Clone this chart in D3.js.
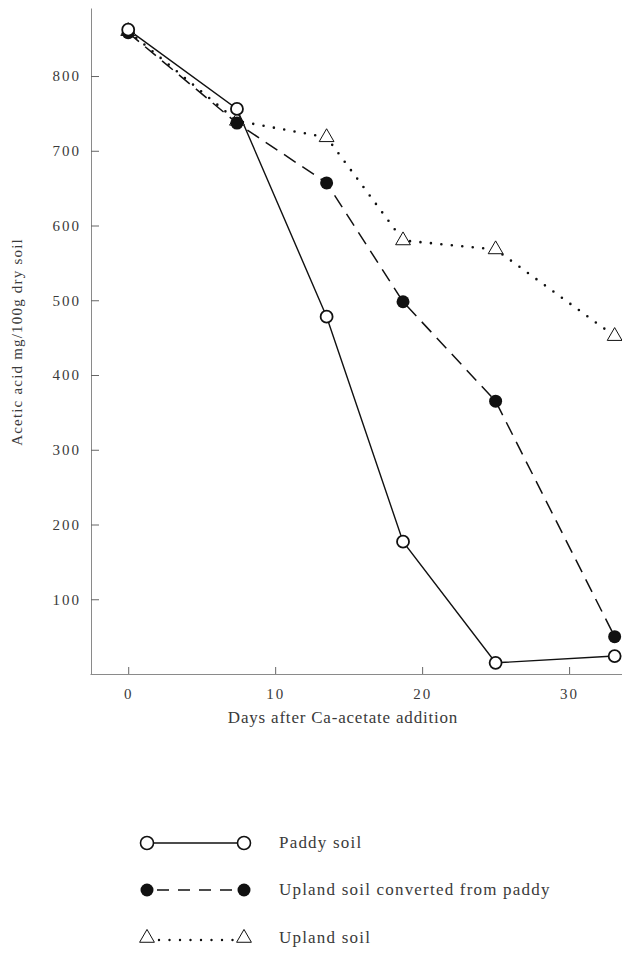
<!DOCTYPE html>
<html>
<head>
<meta charset="utf-8">
<script src="https://cdn.jsdelivr.net/npm/d3@7.9.0/dist/d3.min.js"></script>
<style>
  body { margin: 0; background: #fff; }
  svg { display: block; }
  text { font-family: "Liberation Serif", "DejaVu Serif", serif; fill: #3a3a3a; }
</style>
</head>
<body>
<svg id="chart" width="622" height="953"></svg>
<script>
// Days after Ca-acetate addition
const days = [0, 7.4, 13.5, 18.7, 25.0, 33.1];

// Acetic acid mg/100g dry soil
const paddy = [862, 756, 478, 177, 15, 24];
const converted = [858, 737, 657, 498, 365, 50];
const upland = [860, 740, 718, 580, 568, 452];

const yTicks = [100, 200, 300, 400, 500, 600, 700, 800];
const xTicks = [0, 10, 20, 30];

const seriesNames = ["Paddy soil", "Upland soil converted from paddy", "Upland soil"];

const svg = d3.select("#chart");

let x = d3.scaleLinear().domain([-2.6, 33.6]).range([90, 622]);
let y = d3.scaleLinear().domain([0, 891]).range([674, 8]);

// axes
let yAxis = d3.axisLeft(y).tickValues(yTicks).tickSizeInner(-8).tickSizeOuter(0).tickPadding(10);
let xAxis = d3.axisBottom(x).tickValues(xTicks).tickSizeInner(-7).tickSizeOuter(0).tickPadding(14);

let gy = svg.append("g").attr("transform", "translate(91,0)").call(yAxis);
let gx = svg.append("g").attr("transform", "translate(0,674)").call(xAxis);

[gy, gx].forEach(g => {
    g.select(".domain").attr("stroke", "#8a8a8a").attr("stroke-width", 1);
    g.selectAll(".tick line").attr("stroke", "#666").attr("stroke-width", 1);
    g.selectAll(".tick text")
        .style("font-family", "'Liberation Serif', serif")
        .style("font-size", "15px")
        .attr("fill", "#555")
        .attr("letter-spacing", "2px");
});

// axis titles
svg.append("text")
    .attr("x", 343).attr("y", 723)
    .attr("text-anchor", "middle")
    .style("font-size", "17px")
    .attr("letter-spacing", "0.8px")
    .text("Days after Ca-acetate addition");

svg.append("text")
    .attr("transform", "translate(22,342) rotate(-90)")
    .attr("text-anchor", "middle")
    .style("font-size", "15px")
    .attr("letter-spacing", "1.2px")
    .attr("fill", "#666")
    .text("Acetic acid mg/100g dry soil");

// lines
let line = d3.line().x((d, i) => x(days[i])).y(d => y(d));

svg.append("path").datum(upland)
    .attr("d", line).attr("fill", "none")
    .attr("stroke", "#111").attr("stroke-width", 2.6)
    .attr("stroke-linecap", "round").attr("stroke-dasharray", "0,10.5");

svg.append("path").datum(converted)
    .attr("d", line).attr("fill", "none")
    .attr("stroke", "#111").attr("stroke-width", 1.5)
    .attr("stroke-dasharray", "14,8");

svg.append("path").datum(paddy)
    .attr("d", line).attr("fill", "none")
    .attr("stroke", "#111").attr("stroke-width", 1.4);

// markers
let triangle = d3.symbol().type(d3.symbolTriangle).size(95);

svg.selectAll(".tri").data(upland).enter().append("path")
    .attr("class", "tri")
    .attr("d", triangle)
    .attr("transform", (d, i) => `translate(${x(days[i])},${y(d)})`)
    .attr("fill", "#fff").attr("stroke", "#111").attr("stroke-width", 1);

svg.selectAll(".filled").data(converted).enter().append("circle")
    .attr("class", "filled")
    .attr("cx", (d, i) => x(days[i])).attr("cy", d => y(d))
    .attr("r", 6.5).attr("fill", "#111");

svg.selectAll(".open").data(paddy).enter().append("circle")
    .attr("class", "open")
    .attr("cx", (d, i) => x(days[i])).attr("cy", d => y(d))
    .attr("r", 6).attr("fill", "#fff")
    .attr("stroke", "#111").attr("stroke-width", 1.8);

// legend
let legendRows = [843, 890, 938];
let lx1 = 147, lx2 = 244;

let leg = svg.append("g");

// paddy row
leg.append("line").attr("x1", lx1).attr("x2", lx2).attr("y1", legendRows[0]).attr("y2", legendRows[0])
    .attr("stroke", "#111").attr("stroke-width", 1.4);
[lx1, lx2].forEach(cx => leg.append("circle").attr("cx", cx).attr("cy", legendRows[0]).attr("r", 6.5)
    .attr("fill", "#fff").attr("stroke", "#111").attr("stroke-width", 1.6));

// converted row
leg.append("line").attr("x1", lx1 + 10).attr("x2", lx2 - 4).attr("y1", legendRows[1]).attr("y2", legendRows[1])
    .attr("stroke", "#111").attr("stroke-width", 1.5).attr("stroke-dasharray", "12,9");
[lx1, lx2].forEach(cx => leg.append("circle").attr("cx", cx).attr("cy", legendRows[1]).attr("r", 6.5)
    .attr("fill", "#111"));

// upland row
leg.append("line").attr("x1", lx1 + 12).attr("x2", lx2 - 6).attr("y1", legendRows[2] + 2).attr("y2", legendRows[2] + 2)
    .attr("stroke", "#111").attr("stroke-width", 2.4)
    .attr("stroke-linecap", "round").attr("stroke-dasharray", "0,10.5");
[lx1, lx2].forEach(cx => leg.append("path").attr("d", triangle)
    .attr("transform", `translate(${cx},${legendRows[2]})`)
    .attr("fill", "#fff").attr("stroke", "#111").attr("stroke-width", 1));

leg.selectAll(".ltext").data(seriesNames).enter().append("text")
    .attr("class", "ltext")
    .attr("x", 279).attr("y", (d, i) => legendRows[i] + 5)
    .style("font-size", "17px")
    .attr("letter-spacing", "1.2px")
    .text(d => d);
</script>
</body>
</html>
